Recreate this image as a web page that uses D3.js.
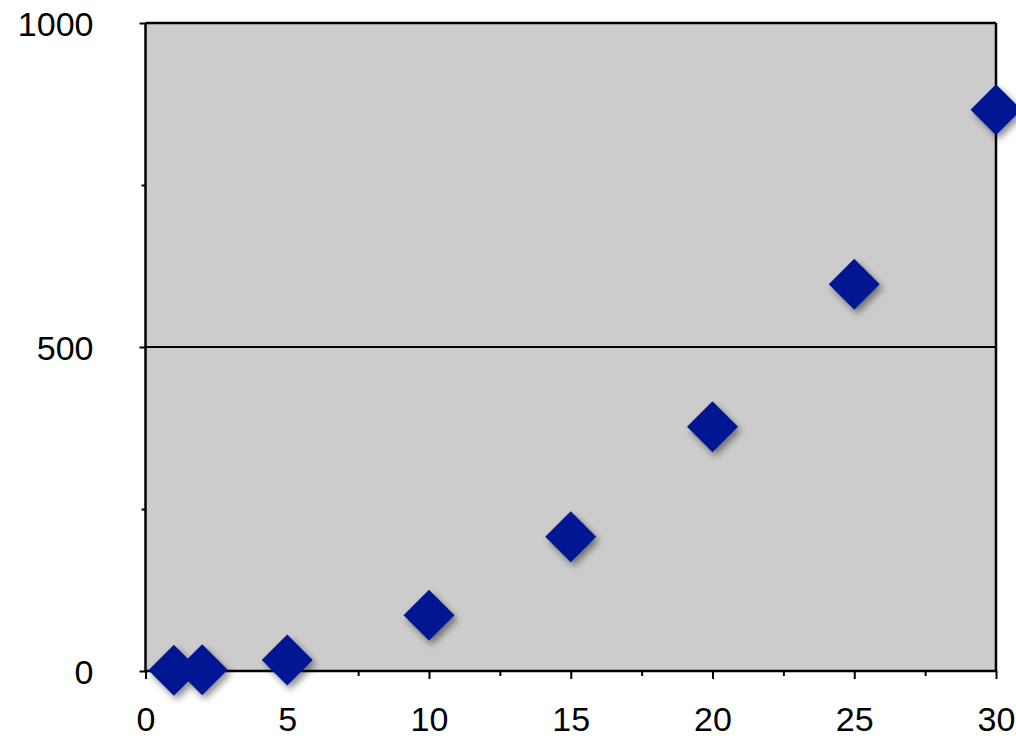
<!DOCTYPE html>
<html>
<head>
<meta charset="utf-8">
<script src="https://cdn.jsdelivr.net/npm/d3@7"></script>
<style>
html,body{margin:0;padding:0;background:#fff;}
svg{display:block;}
text{font-family:"Liberation Sans",Arial,Helvetica,sans-serif;}
</style>
</head>
<body>
<script>
const xValues = [1, 2, 5, 10, 15, 20, 25, 30];
const yValues = [1, 2, 17, 86, 207, 377, 597, 866];
const xTicks = [0, 5, 10, 15, 20, 25, 30];
const xMinorTicks = [2.5, 7.5, 12.5, 17.5, 22.5, 27.5];
const yTicks = [0, 500, 1000];
const yMinorTicks = [250, 750];

(function () {
const W = 1016, H = 738;
const pLeft = 145.5, pRight = 996, pTop = 23, pBottom = 671;

const svg = d3.select("body").append("svg").attr("width", W).attr("height", H);

const defs = svg.append("defs");
const f = defs.append("filter").attr("id", "shadow").attr("x", "-50%").attr("y", "-50%").attr("width", "200%").attr("height", "200%");
f.append("feDropShadow").attr("dx", 3).attr("dy", 4).attr("stdDeviation", 3.5)
  .attr("flood-color", "#000").attr("flood-opacity", 0.45);

const x = d3.scaleLinear().domain([0, 30]).range([pLeft, pRight]);
const y = d3.scaleLinear().domain([0, 1000]).range([pBottom, pTop]);

svg.append("rect").attr("x", pLeft).attr("y", pTop).attr("width", pRight - pLeft).attr("height", pBottom - pTop)
  .attr("fill", "#cccccc");

svg.append("g").selectAll("line").data(yTicks.filter(d => d > 0 && d < 1000)).join("line")
  .attr("x1", pLeft).attr("x2", pRight).attr("y1", d => y(d)).attr("y2", d => y(d))
  .attr("stroke", "#000").attr("stroke-width", 2);

svg.append("line").attr("x1", pLeft).attr("x2", pRight).attr("y1", pTop).attr("y2", pTop).attr("stroke", "#000").attr("stroke-width", 2.5);
svg.append("line").attr("x1", pRight).attr("x2", pRight).attr("y1", pTop).attr("y2", pBottom).attr("stroke", "#000").attr("stroke-width", 2.5);

const yAxis = svg.append("g").attr("transform", `translate(${pLeft},0)`)
  .call(d3.axisLeft(y).tickValues(yTicks).tickSize(6).tickPadding(46).tickFormat(d3.format("d")));
yAxis.select(".domain").attr("stroke", "#000").attr("stroke-width", 2.5).attr("d", `M0,${pBottom}V${pTop}`);
yAxis.selectAll(".tick line").attr("stroke", "#000").attr("stroke-width", 2);
yAxis.selectAll(".tick text").attr("font-size", 34).attr("fill", "#000")
  .attr("font-family", "'Liberation Sans', Arial, sans-serif").attr("dy", "0.38em");
svg.append("g").attr("transform", `translate(${pLeft},0)`)
  .call(d3.axisLeft(y).tickValues(yMinorTicks).tickSize(4).tickFormat(""))
  .call(g => g.select(".domain").remove())
  .selectAll("line").attr("stroke", "#000").attr("stroke-width", 2);

const xAxis = svg.append("g").attr("transform", `translate(0,${pBottom})`)
  .call(d3.axisBottom(x).tickValues(xTicks).tickSize(8).tickPadding(52).tickFormat(d3.format("d")));
xAxis.select(".domain").attr("stroke", "#000").attr("stroke-width", 2.5).attr("d", `M${pLeft},0H${pRight}`);
xAxis.selectAll(".tick line").attr("stroke", "#000").attr("stroke-width", 2);
xAxis.selectAll(".tick text").attr("font-size", 34).attr("fill", "#000")
  .attr("font-family", "'Liberation Sans', Arial, sans-serif").attr("dy", "0");
svg.append("g").attr("transform", `translate(0,${pBottom})`)
  .call(d3.axisBottom(x).tickValues(xMinorTicks).tickSize(5).tickFormat(""))
  .call(g => g.select(".domain").remove())
  .selectAll("line").attr("stroke", "#000").attr("stroke-width", 2);

const data = xValues.map((v, i) => ({x: v, y: yValues[i]}));
const r = 25.5;
svg.append("g").attr("filter", "url(#shadow)").selectAll("path").data(data).join("path")
  .attr("d", d => `M${x(d.x)},${y(d.y) - r}L${x(d.x) + r},${y(d.y)}L${x(d.x)},${y(d.y) + r}L${x(d.x) - r},${y(d.y)}Z`)
  .attr("fill", "#021893");
})();
</script>
</body>
</html>
